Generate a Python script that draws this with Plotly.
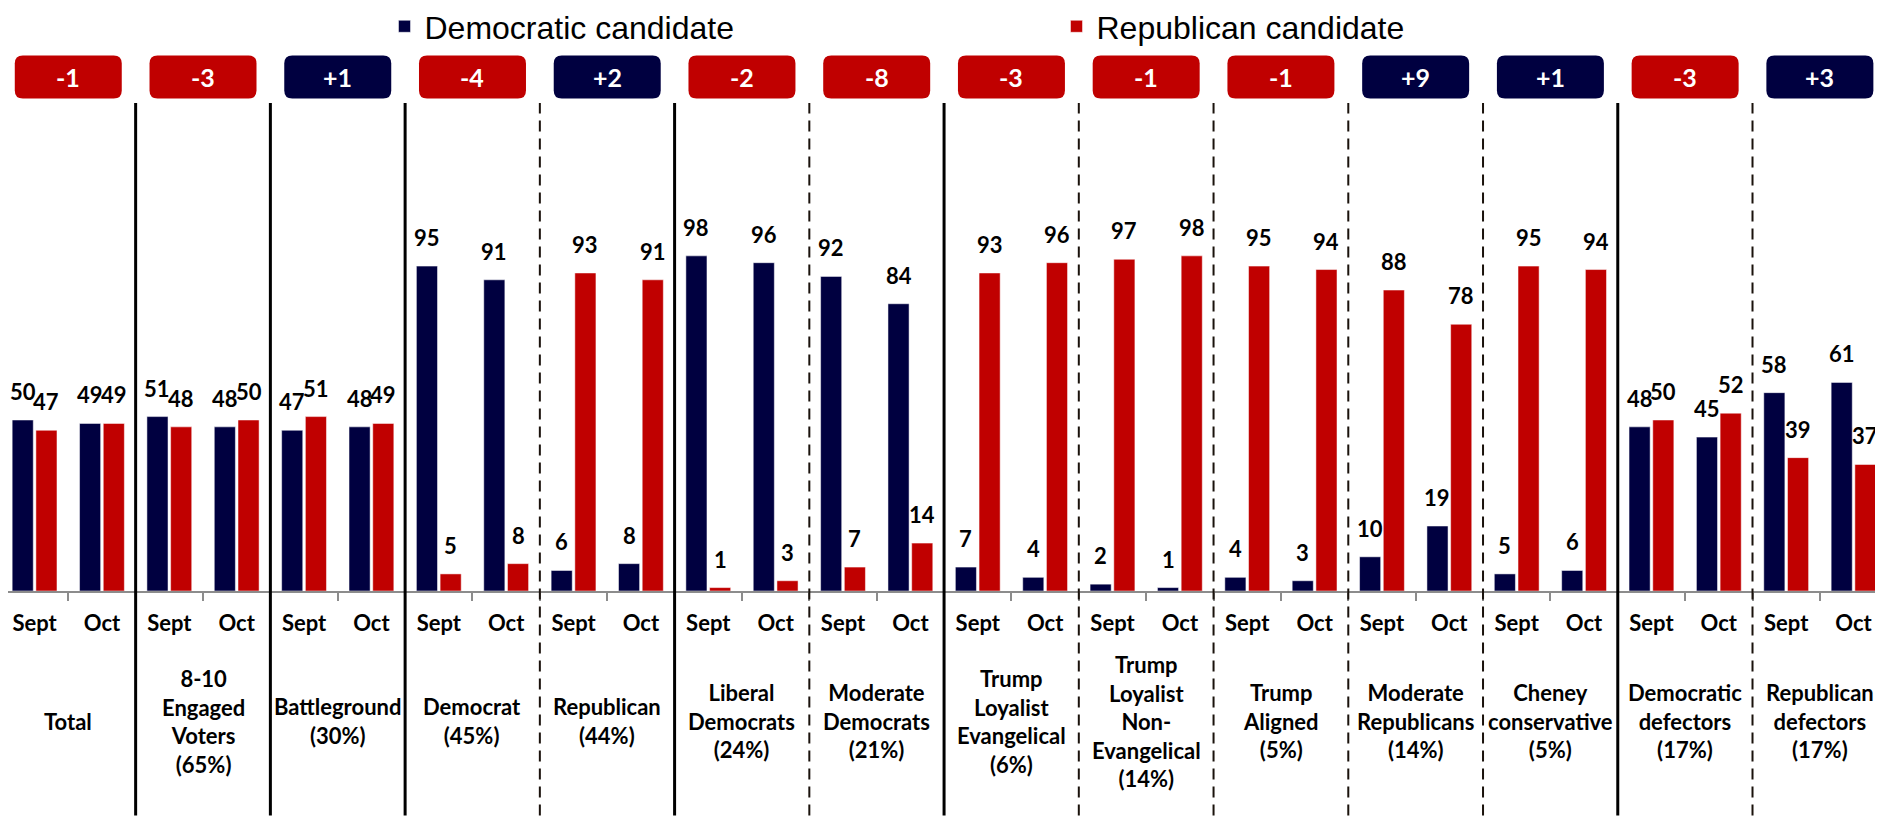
import plotly.graph_objects as go

groups = [
    "Total",
    "8-10<br>Engaged<br>Voters<br>(65%)",
    "Battleground<br>(30%)",
    "Democrat<br>(45%)",
    "Republican<br>(44%)",
    "Liberal<br>Democrats<br>(24%)",
    "Moderate<br>Democrats<br>(21%)",
    "Trump<br>Loyalist<br>Evangelical<br>(6%)",
    "Trump<br>Loyalist<br>Non-<br>Evangelical<br>(14%)",
    "Trump<br>Aligned<br>(5%)",
    "Moderate<br>Republicans<br>(14%)",
    "Cheney<br>conservative<br>(5%)",
    "Democratic<br>defectors<br>(17%)",
    "Republican<br>defectors<br>(17%)",
]
periods = ["Sept", "Oct"]

dem_sept = [50, 51, 47, 95, 6, 98, 92, 7, 2, 4, 10, 5, 48, 58]
dem_oct = [49, 48, 48, 91, 8, 96, 84, 4, 1, 3, 19, 6, 45, 61]
rep_sept = [47, 48, 51, 5, 93, 1, 7, 93, 97, 95, 88, 95, 50, 39]
rep_oct = [49, 50, 49, 8, 91, 3, 14, 96, 98, 94, 78, 94, 52, 37]

net_change = [-1, -3, 1, -4, 2, -2, -8, -3, -1, -1, 9, 1, -3, 3]

# line style between group i and i+1
separator_styles = ["solid", "solid", "solid", "dash", "solid", "dash", "solid",
                    "dash", "dash", "dash", "dash", "solid", "dash"]

NAVY = "#000040"
RED = "#C00000"
LABEL_FONT = "Lato, Open Sans, sans-serif"

BAR_GAP = 0.296
BAR_GROUP_GAP = 0.11
label_offset = (1 - BAR_GAP) / 4

x_pos = []
tick_text = []
dem_values = []
rep_values = []
for g in range(len(groups)):
    for s, period in enumerate(periods):
        x_pos.append(2 * g + s + 0.5)
        tick_text.append(period)
    dem_values += [dem_sept[g], dem_oct[g]]
    rep_values += [rep_sept[g], rep_oct[g]]

fig = go.Figure()

fig.add_trace(go.Bar(
    x=x_pos, y=dem_values, name="Democratic candidate",
    marker=dict(color=NAVY, line=dict(color="white", width=0.5)),
    hoverinfo="y"
))
fig.add_trace(go.Bar(
    x=x_pos, y=rep_values, name="Republican candidate",
    marker=dict(color=RED, line=dict(color="white", width=0.5)),
    hoverinfo="y"
))

annotations = []
shapes = []

# value labels above bars
for xv, dv, rv in zip(x_pos, dem_values, rep_values):
    for offset, val in ((-label_offset, dv), (label_offset, rv)):
        annotations.append(dict(
            x=xv + offset, y=val, xref="x", yref="y",
            text=str(val), showarrow=False,
            yanchor="bottom", yshift=13,
            font=dict(family=LABEL_FONT, size=22, color="black", weight="bold")
        ))

# group labels under the axis and change badges on top
badge_half = 0.794
rx, ry = 0.119, 0.0164
badge_y0, badge_y1 = 1.0092, 1.0973
for g, label in enumerate(groups):
    center = 2 * g + 1
    annotations.append(dict(
        x=center, y=-0.2674, xref="x", yref="paper",
        text=label, showarrow=False, yanchor="middle",
        font=dict(family=LABEL_FONT, size=22, color="black", weight="bold")
    ))

    change = net_change[g]
    color = NAVY if change > 0 else RED
    x0, x1 = center - badge_half, center + badge_half
    path = (
        f"M{x0 + rx},{badge_y0} L{x1 - rx},{badge_y0} "
        f"Q{x1},{badge_y0} {x1},{badge_y0 + ry} "
        f"L{x1},{badge_y1 - ry} Q{x1},{badge_y1} {x1 - rx},{badge_y1} "
        f"L{x0 + rx},{badge_y1} Q{x0},{badge_y1} {x0},{badge_y1 - ry} "
        f"L{x0},{badge_y0 + ry} Q{x0},{badge_y0} {x0 + rx},{badge_y0} Z"
    )
    shapes.append(dict(
        type="path", path=path, xref="x", yref="paper",
        fillcolor=color, line=dict(width=0), layer="above"
    ))
    annotations.append(dict(
        x=center, y=(badge_y0 + badge_y1) / 2, xref="x", yref="paper",
        text=f"{change:+d}", showarrow=False, yanchor="middle",
        font=dict(family=LABEL_FONT, size=25, color="white", weight="bold")
    ))

# separators between groups
for i, style in enumerate(separator_styles):
    xb = 2 * (i + 1)
    if style == "solid":
        line = dict(color="black", width=3)
    else:
        line = dict(color="#1a120c", width=2, dash="11px,7px")
    shapes.append(dict(
        type="line", xref="x", yref="paper",
        x0=xb, x1=xb, y0=-0.46, y1=1.0, line=line
    ))

fig.update_layout(
    width=1875,
    height=813,
    barmode="group",
    bargap=BAR_GAP,
    bargroupgap=BAR_GROUP_GAP,
    plot_bgcolor="white",
    paper_bgcolor="white",
    margin=dict(l=0, r=0, t=95, b=230, autoexpand=False),
    annotations=annotations,
    shapes=shapes,
    showlegend=True,
    legend=dict(
        orientation="h",
        x=0.2008, xanchor="left",
        y=1.1568, yanchor="middle",
        entrywidth=627,
        font=dict(family="Liberation Sans, Arial, sans-serif", size=32, color="black"),
        bgcolor="rgba(0,0,0,0)"
    ),
    xaxis=dict(
        range=[0.1054, 27.937],
        tickmode="array",
        tickvals=x_pos,
        ticktext=tick_text,
        ticks="",
        ticklabelstandoff=12,
        tickfont=dict(family=LABEL_FONT, size=22, color="black", weight="bold"),
        showline=True,
        linecolor="#8c8c8c",
        linewidth=2,
        showgrid=False,
        zeroline=False,
        minor=dict(ticks="outside", tickmode="linear", tick0=0, dtick=1,
                   ticklen=8, tickwidth=2, tickcolor="#8c8c8c", showgrid=False),
        fixedrange=True
    ),
    yaxis=dict(
        range=[0, 142.7],
        visible=False,
        showgrid=False,
        zeroline=False,
        fixedrange=True
    )
)

fig.write_html("out.html")
